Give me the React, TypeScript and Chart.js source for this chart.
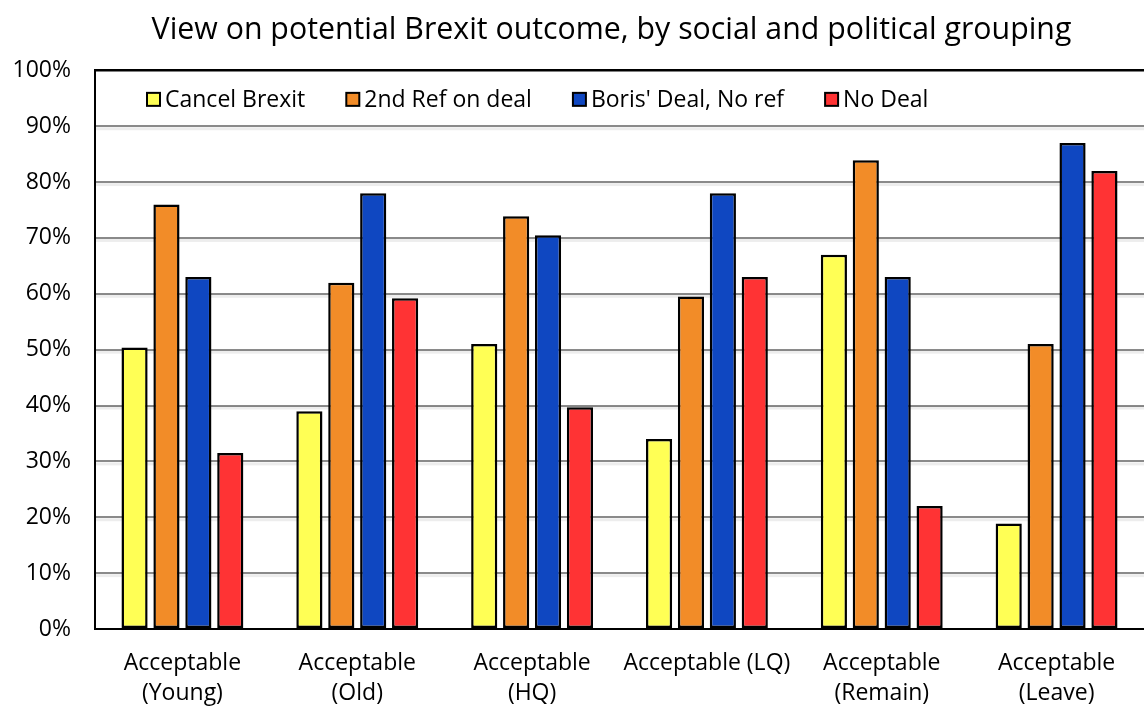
import { useEffect, useRef } from 'react';
import { Chart, registerables } from 'chart.js';

Chart.register(...registerables);

const FONT = '"Open Sans", Lato, sans-serif';

const categories: (string | string[])[] = [
  ['Acceptable', '(Young)'],
  ['Acceptable', '(Old)'],
  ['Acceptable', '(HQ)'],
  'Acceptable (LQ)',
  ['Acceptable', '(Remain)'],
  ['Acceptable', '(Leave)'],
];
const seriesNames = ['Cancel Brexit', '2nd Ref on deal', "Boris' Deal, No ref", 'No Deal'];
const cancelBrexit = [50.4, 39, 51, 34, 67, 18.9];
const secondRef = [76, 62, 73.9, 59.5, 83.9, 51];
const borisDeal = [63, 78, 70.5, 78, 63, 87];
const noDeal = [31.5, 59.2, 39.7, 63, 22, 82];
const seriesColors = ['#FFFF55', '#F28C28', '#0F47C1', '#FF3334'];
const titleText = 'View on potential Brexit outcome, by social and political grouping';

const titleShift = {
  id: 'titleShift',
  afterLayout(chart: any) {
    const t = chart.titleBlock;
    if (t) {
      t.left = 75;
      t.right = 1148;
    }
  },
};

const gridShadow = {
  id: 'gridShadow',
  beforeDatasetsDraw(chart: any) {
    const ctx = chart.ctx;
    const area = chart.chartArea;
    const y = chart.scales.y;
    ctx.save();
    y.ticks.forEach((t: any) => {
      if (t.value === 0 || t.value === 100) return;
      const py = y.getPixelForValue(t.value);
      ctx.fillStyle = 'rgba(0,0,0,0.07)';
      ctx.fillRect(area.left, py + 1, area.right - area.left, 3);
    });
    ctx.restore();
  },
};

const insideLegend = {
  id: 'insideLegend',
  afterDraw(chart: any) {
    const ctx = chart.ctx;
    const area = chart.chartArea;
    ctx.save();
    ctx.font = `23px ${FONT}`;
    ctx.textBaseline = 'middle';
    ctx.textAlign = 'left';
    let x = area.left + 52;
    const y = area.top + 29;
    chart.data.datasets.forEach((ds: any) => {
      ctx.fillStyle = ds.backgroundColor;
      ctx.fillRect(x, y - 6.5, 13, 13);
      ctx.lineWidth = 2;
      ctx.strokeStyle = '#000';
      ctx.strokeRect(x, y - 6.5, 13, 13);
      ctx.fillStyle = '#000';
      ctx.fillText(ds.label, x + 18, y + 1);
      x += 18 + ctx.measureText(ds.label).width + 41;
    });
    ctx.restore();
  },
};

export default function App() {
  const ref = useRef<HTMLCanvasElement | null>(null);
  useEffect(() => {
    document.body.style.margin = '0';
    document.documentElement.style.overflow = 'hidden';
    const series = [cancelBrexit, secondRef, borisDeal, noDeal];
    const chart = new Chart(ref.current as HTMLCanvasElement, {
      type: 'bar',
      data: {
        labels: categories,
        datasets: series.map((d, i) => ({
          label: seriesNames[i],
          data: d,
          backgroundColor: seriesColors[i],
          borderColor: '#000000',
          borderWidth: 2.5,
          borderSkipped: false,
          categoryPercentage: 0.73,
          barPercentage: 0.82,
        })),
      },
      options: {
        responsive: false,
        animation: false,
        layout: { padding: { left: 0, right: -4, top: 0, bottom: 0 } },
        plugins: {
          legend: { display: false },
          tooltip: { enabled: false },
          title: {
            display: true,
            text: titleText,
            color: '#000',
            font: { family: FONT, size: 30.3, weight: 'normal' },
            padding: { top: 12, bottom: 22 },
          },
        },
        scales: {
          x: {
            grid: { display: false, drawTicks: false },
            border: { display: true, color: '#000', width: 2 },
            ticks: {
              color: '#000',
              font: { family: FONT, size: 23, lineHeight: 1.3 },
              padding: 20,
              maxRotation: 0,
              autoSkip: false,
            },
            afterFit: (s: any) => { s.height = 80; },
          },
          y: {
            min: 0,
            max: 100,
            grid: {
              drawTicks: false,
              color: (c: any) => (c.tick && c.tick.value === 100 ? '#000' : '#8a8a8a'),
              lineWidth: (c: any) => (c.tick && c.tick.value === 100 ? 2.5 : 2),
            },
            border: { display: true, color: '#000', width: 2 },
            ticks: {
              stepSize: 10,
              color: '#000',
              font: { family: FONT, size: 23 },
              padding: 24,
              callback: (v: any) => `${v}%`,
            },
            afterFit: (s: any) => { s.width = 95; },
          },
        },
      },
      plugins: [titleShift, gridShadow, insideLegend],
    });
    return () => chart.destroy();
  }, []);
  return (
    <div style={{ position: 'absolute', left: 0, top: 0, width: 1144, height: 709 }}>
      <canvas ref={ref} width={1144} height={709} />
    </div>
  );
}
